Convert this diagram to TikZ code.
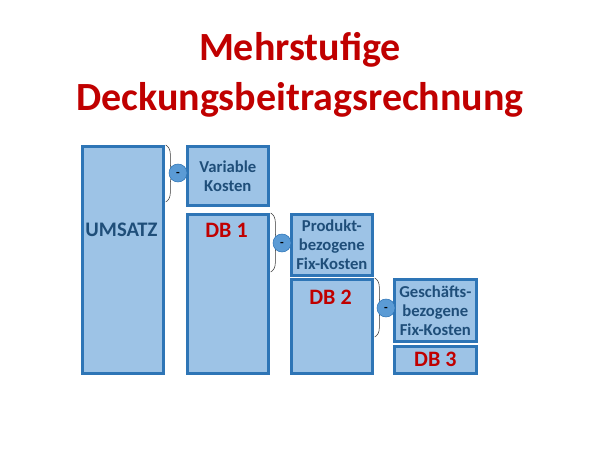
\documentclass[tikz,border=0pt]{standalone}
\usepackage{fontspec}
\setmainfont{Carlito}
\usepackage{tikz}
\usetikzlibrary{calc}
\usetikzlibrary{decorations.pathreplacing}
\definecolor{titelrot}{HTML}{C00000}
\definecolor{kastenblau}{HTML}{9DC3E6}
\definecolor{randblau}{HTML}{2E75B6}
\definecolor{textblau}{HTML}{1F4E79}
\definecolor{kreisblau}{HTML}{5B9BD5}
\tikzstyle{every node}=[font=\bfseries]
\tikzstyle{kasten}=[draw=randblau, line width=2pt, fill=kastenblau, anchor=north west, inner sep=0pt]
\tikzstyle{kosten}=[text=textblau, font=\bfseries\fontsize{12.5}{14.25}\selectfont, align=center]
\tikzstyle{db}=[text=titelrot, font=\bfseries\fontsize{16.5}{18}\selectfont]
\tikzstyle{klammer}=[decorate, decoration={brace, amplitude=7pt}, thin, black!80]
\tikzstyle{minus}=[circle, draw=randblau, fill=kreisblau, minimum size=13.5pt, inner sep=0pt, text height=5pt, text depth=0pt, font=\bfseries\small]

\begin{document}
\begin{tikzpicture}[x=0.75pt, y=-0.75pt]
                \useasboundingbox (0, 0) rectangle (600, 455);
                % titel
                \node [text=titelrot, font=\bfseries\fontsize{30}{37.5}\selectfont, align=center] (titel) at (300, 75) {Mehrstufige\\Deckungsbeitragsrechnung};
                % kaesten
                \node [kasten, minimum width=60.75pt, minimum height=170.25pt] (umsatz) at (81, 145) {};
                \node [kasten, minimum width=60.75pt, minimum height=44.25pt] (var) at (186, 145) {};
                \node [kasten, minimum width=60.75pt, minimum height=119.25pt] (db1) at (186, 213) {};
                \node [kasten, minimum width=60.75pt, minimum height=45.75pt] (prod) at (290, 213) {};
                \node [kasten, minimum width=60.75pt, minimum height=70.5pt] (db2) at (290, 278) {};
                \node [kasten, minimum width=61.5pt, minimum height=46.5pt] (gesch) at (393, 278) {};
                \node [kasten, minimum width=61.5pt, minimum height=20.25pt] (db3) at (393, 345) {};
                % texte
                \node [text=textblau, font=\bfseries\fontsize{15.5}{18}\selectfont] (umsatz-t) at (121.5, 230) {UMSATZ};
                \node [kosten] (var-t) at (var.center) {Variable\\Kosten};
                \node [db] (db1-t) at (226.5, 230) {DB 1};
                \node [kosten] (prod-t) at (prod.center) {Produkt-\\bezogene\\Fix-Kosten};
                \node [db] (db2-t) at (330.5, 297) {DB 2};
                \node [kosten] (gesch-t) at (gesch.center) {Geschäfts-\\bezogene\\Fix-Kosten};
                \node [db] (db3-t) at (db3.center) {DB 3};
                % klammern
                \coordinate (k1) at ($(umsatz.north east) + (1, 57)$);
                \coordinate (k2) at ($(db1.north east) + (1, 59)$);
                \coordinate (k3) at ($(db2.north east) + (1, 59)$);
                \draw [klammer] ($(umsatz.north east) + (1, 0)$) -- (k1);
                \draw [klammer] ($(db1.north east) + (1, 0)$) -- (k2);
                \draw [klammer] ($(db2.north east) + (1, 0)$) -- (k3);
                \node [minus] (m1) at (178, 173) {-};
                \node [minus] (m2) at (282, 243) {-};
                \node [minus] (m3) at (386, 308) {-};
            \end{tikzpicture}
\end{document}
